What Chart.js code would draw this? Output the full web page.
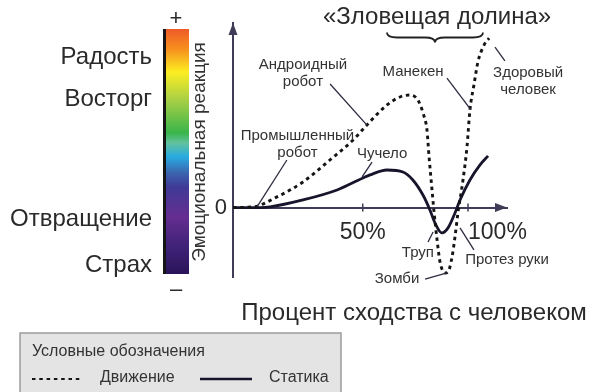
<!DOCTYPE html>
<html>
<head>
<meta charset="utf-8">
<script src="https://cdn.jsdelivr.net/npm/chart.js@4/dist/chart.umd.min.js"></script>
<style>
  html, body { margin: 0; padding: 0; background: #fff; }
  canvas { display: block; }
</style>
</head>
<body>
<canvas id="chart" width="589" height="392"></canvas>
<script>
// Human likeness, % (x) and emotional response (y) — moving entities
const motionX = [-11.6, -2.1, 9.3, 21.6, 34.4, 45.4, 52.0, 61.5, 67.7, 72.4, 76.2, 78.6, 80.5, 81.5, 82.9, 83.9, 85.3, 86.7, 89.1, 90.5, 92.4, 93.8, 95.2, 97.6, 99.5, 100.9, 102.8, 104.7, 107.6, 110.0];
const motionY = [0, 0.4, 6.3, 15.1, 28.1, 39.9, 48.8, 60.6, 65.3, 66.5, 63.5, 55.9, 45.8, 29.9, 10.4, -3.2, -19.1, -32.1, -38.6, -38.0, -29.2, -17.4, -3.2, 16.3, 35.8, 57.6, 72.4, 86.0, 96.0, 100];

// Human likeness, % (x) and emotional response (y) — still entities
const stillX = [-11.6, 1.2, 6.0, 21.6, 37.8, 50.1, 53.5, 61.5, 69.1, 73.8, 78.6, 81.9, 84.3, 87.6, 90.5, 93.8, 96.2, 100.9, 105.7, 109.5];
const stillY = [0, 0, 0.4, 4.5, 10.4, 17.5, 19.3, 22.2, 21.0, 16.3, 7.4, -1.4, -9.1, -15.0, -12.0, -3.2, 4.5, 16.3, 25.2, 30.5];

const seriesNames = ['Движение', 'Статика'];
const xTicks = [50, 100];
const yTicks = [0];

// Mood words along the emotional scale
const moodWords = ['Радость', 'Восторг', 'Отвращение', 'Страх'];

const FONT = "'Liberation Sans', Arial, Helvetica, sans-serif";
const AXIS = '#403c58';
const INK = '#2a2a2a';

const toPoints = (xs, ys) => xs.map((x, i) => ({ x: x, y: ys[i] }));

// Callouts naming the entities, placed in data space
const callouts = [
  { lines: ['Андроидный', 'робот'], x: 21.6, y: 84.2, from: [34.5, 73.0], to: [52.0, 48.7] },
  { lines: ['Манекен'], x: 73.9, y: 80.1, from: [90.0, 76.5], to: [101.2, 58.0] },
  { lines: ['Здоровый', 'человек'], x: 128.5, y: 79.5, from: [112.8, 94.8], to: [117.5, 86.6] },
  { lines: ['Промышленный', 'робот'], x: 19.0, y: 42.3, from: [14.0, 28.1], to: [-0.2, 0.4] },
  { lines: ['Чучело'], x: 59.2, y: 31.7, from: [54.4, 26.9], to: [49.7, 18.1] },
  { lines: ['Труп'], x: 76.2, y: -26.8, from: [81.0, -20.3], to: [83.4, -14.4] },
  { lines: ['Зомби'], x: 66.3, y: -42.2, from: [79.6, -42.2], to: [90.0, -38.6] },
  { lines: ['Протез руки'], x: 118.5, y: -30.9, from: [96.2, -12.0], to: [102.8, -25.0] }
];
const valleyTitle = { text: '«Зловещая долина»', x: 85.3, y: 112.1 };
const valleySpan = { from: 61.5, to: 107.1, y: 103.4 };

const decor = {
  id: 'decor',
  afterDraw(chart) {
    const ctx = chart.ctx;
    const xs = chart.scales.x, ys = chart.scales.y;
    const area = chart.chartArea;
    const px = v => xs.getPixelForValue(v);
    const py = v => ys.getPixelForValue(v);
    const y0 = py(0);
    ctx.save();

    // arrow heads on both axes
    ctx.fillStyle = AXIS;
    ctx.beginPath();
    ctx.moveTo(area.left, area.top);
    ctx.lineTo(area.left - 4.5, area.top + 12);
    ctx.lineTo(area.left + 4.5, area.top + 12);
    ctx.closePath();
    ctx.fill();
    ctx.beginPath();
    ctx.moveTo(area.right, y0);
    ctx.lineTo(area.right - 12, y0 - 4.5);
    ctx.lineTo(area.right - 12, y0 + 4.5);
    ctx.closePath();
    ctx.fill();

    // tick marks crossing the x axis
    ctx.strokeStyle = AXIS;
    ctx.lineWidth = 1.5;
    [chart.scales.x, chart.scales.x2].forEach(s => {
      s.ticks.forEach(t => {
        const p = s.getPixelForValue(t.value);
        ctx.beginPath();
        ctx.moveTo(p, y0 - 4);
        ctx.lineTo(p, y0 + 4);
        ctx.stroke();
      });
    });

    // emotional response colour bar
    const barTop = 29, barBottom = 274, barLeft = 163, barRight = 189;
    const g = ctx.createLinearGradient(0, barTop, 0, barBottom);
    [[0, '#f05a28'], [0.086, '#f7931e'], [0.176, '#fcee21'], [0.29, '#a8cf45'],
     [0.424, '#39b54a'], [0.465, '#62c29e'], [0.522, '#27aae1'], [0.588, '#3b64ad'],
     [0.645, '#3f3a96'], [0.767, '#652d90'], [0.89, '#3e2277'], [1, '#2b1459']]
      .forEach(s => g.addColorStop(s[0], s[1]));
    ctx.fillStyle = g;
    ctx.fillRect(barLeft, barTop, barRight - barLeft, barBottom - barTop);
    ctx.fillStyle = '#151515';
    ctx.fillRect(barLeft, barTop, 3, barBottom - barTop);

    ctx.fillStyle = INK;
    ctx.textAlign = 'center';
    ctx.textBaseline = 'middle';
    ctx.font = '22px ' + FONT;
    ctx.fillText('+', 176, 19);
    ctx.fillText('–', 176, 290);

    // mood words
    ctx.textAlign = 'right';
    ctx.font = '24px ' + FONT;
    const moodY = [57, 99, 219, 265];
    moodWords.forEach((w, i) => ctx.fillText(w, 152, moodY[i]));

    // vertical axis caption
    ctx.save();
    ctx.translate(200, 152);
    ctx.rotate(-Math.PI / 2);
    ctx.textAlign = 'center';
    ctx.font = '19px ' + FONT;
    ctx.fillStyle = '#333';
    ctx.fillText('Эмоциональная реакция', 0, 0);
    ctx.restore();

    // horizontal axis caption
    ctx.textAlign = 'center';
    ctx.font = '24px ' + FONT;
    ctx.fillStyle = INK;
    ctx.fillText('Процент сходства с человеком', 414, 313);

    // uncanny valley title and brace
    ctx.font = '24px ' + FONT;
    ctx.fillText(valleyTitle.text, px(valleyTitle.x), py(valleyTitle.y));
    const bx1 = px(valleySpan.from), bx2 = px(valleySpan.to), bm = (bx1 + bx2) / 2, by = py(valleySpan.y), d = 5;
    ctx.strokeStyle = '#222';
    ctx.lineWidth = 1.8;
    ctx.beginPath();
    ctx.moveTo(bx1, by);
    ctx.quadraticCurveTo(bx1, by + d, bx1 + 2 * d, by + d);
    ctx.lineTo(bm - 2 * d, by + d);
    ctx.quadraticCurveTo(bm, by + d, bm, by + 2 * d);
    ctx.quadraticCurveTo(bm, by + d, bm + 2 * d, by + d);
    ctx.lineTo(bx2 - 2 * d, by + d);
    ctx.quadraticCurveTo(bx2, by + d, bx2, by);
    ctx.stroke();

    // callouts with leader lines
    ctx.font = '15px ' + FONT;
    ctx.fillStyle = '#333';
    ctx.strokeStyle = '#2d2b40';
    ctx.lineWidth = 1.3;
    callouts.forEach(c => {
      c.lines.forEach((t, i) => ctx.fillText(t, px(c.x), py(c.y) + i * 17));
      ctx.beginPath();
      ctx.moveTo(px(c.from[0]), py(c.from[1]));
      ctx.lineTo(px(c.to[0]), py(c.to[1]));
      ctx.stroke();
    });

    // legend panel
    ctx.fillStyle = '#e4e4e4';
    ctx.fillRect(20, 333, 321, 70);
    ctx.strokeStyle = '#9c9c9c';
    ctx.lineWidth = 1.5;
    ctx.strokeRect(20, 333, 321, 70);
    ctx.fillStyle = '#333';
    ctx.textAlign = 'left';
    ctx.font = '16px ' + FONT;
    ctx.fillText('Условные обозначения', 32, 352);
    const sample = [[32, 83, 100], [200, 252, 269]];
    chart.data.datasets.forEach((ds, i) => {
      const s = sample[i];
      ctx.save();
      ctx.strokeStyle = ds.borderColor;
      ctx.lineWidth = i === 0 ? 2.2 : 2.5;
      ctx.setLineDash(ds.borderDash || []);
      ctx.beginPath();
      ctx.moveTo(s[0], 379);
      ctx.lineTo(s[1], 379);
      ctx.stroke();
      ctx.restore();
      ctx.fillStyle = '#333';
      ctx.fillText(ds.label, s[2], 378);
    });
    ctx.restore();
  }
};

const tickFont = { family: FONT, size: 23 };

new Chart(document.getElementById('chart'), {
  type: 'line',
  data: {
    datasets: [
      {
        label: seriesNames[0],
        data: toPoints(motionX, motionY),
        borderColor: '#141414',
        borderWidth: 2.9,
        borderDash: [3.5, 3.8],
        pointRadius: 0,
        cubicInterpolationMode: 'monotone',
        fill: false
      },
      {
        label: seriesNames[1],
        data: toPoints(stillX, stillY),
        borderColor: '#17152c',
        borderWidth: 2.8,
        pointRadius: 0,
        cubicInterpolationMode: 'monotone',
        fill: false
      }
    ]
  },
  options: {
    responsive: false,
    devicePixelRatio: 1,
    animation: false,
    clip: false,
    layout: { padding: { left: 0, right: 82, top: 23, bottom: 115 } },
    plugins: { legend: { display: false }, tooltip: { enabled: false } },
    scales: {
      x: {
        type: 'linear', min: -11.6, max: 118.5,
        position: { y: 0 },
        afterBuildTicks: s => { s.ticks = [{ value: xTicks[0] }]; },
        grid: { display: false, drawTicks: false },
        border: { display: true, color: AXIS, width: 2 },
        ticks: { callback: v => v + '%', font: tickFont, color: INK, padding: 11, maxRotation: 0, autoSkip: false }
      },
      x2: {
        type: 'linear', axis: 'x', min: -11.6, max: 118.5,
        position: { y: 0 },
        afterBuildTicks: s => { s.ticks = [{ value: xTicks[1] }]; },
        grid: { display: false, drawTicks: false },
        border: { display: false },
        ticks: { callback: v => v + '%', font: tickFont, color: INK, padding: 11, align: 'start', maxRotation: 0, autoSkip: false }
      },
      y: {
        type: 'linear', min: -41, max: 109,
        position: 'left',
        afterFit: s => { s.width = 233; },
        afterBuildTicks: s => { s.ticks = yTicks.map(v => ({ value: v })); },
        grid: { display: false, drawTicks: false },
        border: { display: true, color: AXIS, width: 2 },
        ticks: { font: { family: FONT, size: 22 }, color: INK, padding: 6 }
      }
    }
  },
  plugins: [decor]
});
</script>
</body>
</html>
